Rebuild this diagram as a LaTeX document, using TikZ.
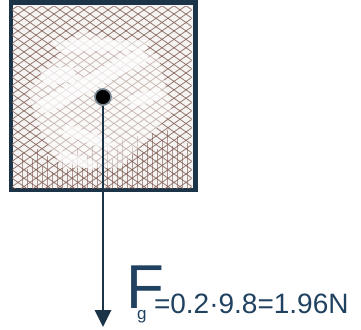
\documentclass[tikz,border=0pt]{standalone}
\usepackage{fontspec}
\setmainfont{Liberation Sans}
\usetikzlibrary{arrows.meta}
\definecolor{ink}{RGB}{28,52,72}
\definecolor{txt}{RGB}{32,66,96}
\definecolor{hatch}{RGB}{125,88,80}
\definecolor{paper}{RGB}{246,244,242}
\tikzset{
  hatchline/.style={draw=hatch, line width=0.8pt, opacity=0.8},
  vstroke/.style={draw=hatch, line width=0.6pt, opacity=0.6},
  light/.style={fill=white, opacity=0.5},
  streak/.style={fill=white, opacity=0.65},
  boxframe/.style={draw=ink, line width=3pt, fill=paper},
  blob/.style={circle, fill=black, draw=ink!60, line width=1.6pt, minimum size=16pt, inner sep=0pt},
  force/.style={draw=ink, line width=2.8pt, -{Triangle[width=16pt,length=17pt]}},
  lbl/.style={text=txt, inner sep=0pt, anchor=base west}
}
\begin{document}
\begin{tikzpicture}[x=1pt,y=1pt]
\useasboundingbox (0,0) rectangle (361,329);
% box
\node[boxframe, minimum width=183pt, minimum height=186pt, inner sep=0pt, anchor=south west] (box) at (10,138) {};
\begin{scope}
  \clip (11.5,139.5) rectangle (191.5,322.5);
  \begin{scope}[yshift=329pt, yscale=-1]
    \foreach \i in {-300,-288,...,200}
      \draw[hatchline] (\i,195) -- ++(328,-230);
    \foreach \i in {0,12,...,520}
      \draw[hatchline] (\i,195) -- ++(-328,-230);
    % vertical strokes near the bottom
    \foreach \i in {22,27,...,190}
      \draw[vstroke] (\i,192) -- ++(0,{-(12+mod(\i*7,26)+0.15*\i)});
    % light X-shaped region
    \fill[light] (28,92) -- (80,30) -- (158,55) -- (172,112) -- (120,168) -- (62,168) -- (40,130) -- cycle;
    \fill[streak] (36,102) -- (140,48) -- (150,60) -- (46,114) -- cycle;
    \fill[streak] (52,40) -- (150,40) -- (146,50) -- (58,52) -- cycle;
    \fill[streak] (40,70) -- (72,66) -- (78,80) -- (44,86) -- cycle;
    \fill[streak] (66,124) -- (112,140) -- (108,150) -- (62,134) -- cycle;
    \fill[streak] (128,96) -- (160,88) -- (162,98) -- (132,108) -- cycle;
    \fill[streak] (60,150) -- (96,162) -- (94,170) -- (58,160) -- cycle;
  \end{scope}
\end{scope}
\draw[ink, line width=3pt] (box.south west) rectangle (box.north east);
% dot and force
\node[blob] (dot) at (103,232) {};
\coordinate (tip) at (103,2);
\draw[force] (dot.south) -- (tip);
% label
\node[lbl] (label) at (126,20) {\fontsize{62}{62}\selectfont F\kern-27pt\raisebox{-11pt}{\fontsize{17}{17}\selectfont g}\kern7.5pt\raisebox{-5pt}{\fontsize{28}{28}\selectfont =0.2·9.8=1.96N}};
\end{tikzpicture}
\end{document}
